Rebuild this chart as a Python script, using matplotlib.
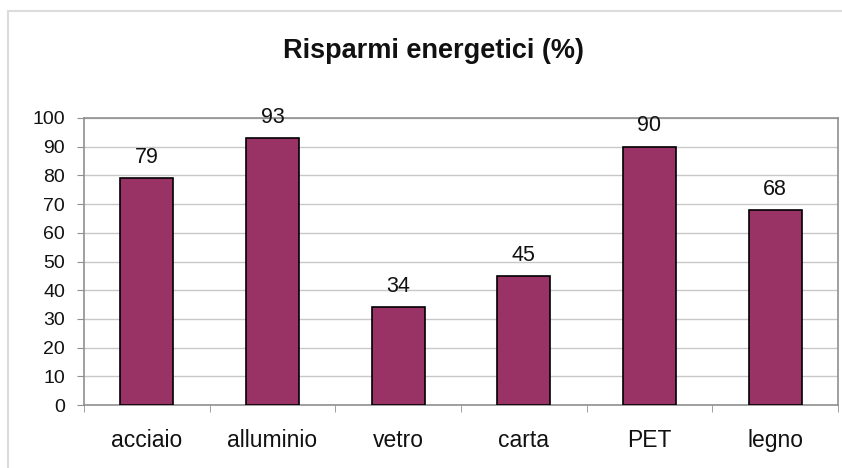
import matplotlib.pyplot as plt
from matplotlib.lines import Line2D

materiali = ["acciaio", "alluminio", "vetro", "carta", "PET", "legno"]
risparmio = [79, 93, 34, 45, 90, 68]
y_ticks = list(range(0, 101, 10))

plt.rcParams['font.family'] = ['Liberation Sans', 'DejaVu Sans']

fig = plt.figure(figsize=(8.42, 4.68), dpi=100)
fig.patch.set_facecolor('white')

# light frame lines along the left and top of the chart area
W, H = 842, 468
fig.add_artist(Line2D([8 / W, 8 / W], [0, 1 - 11 / H], transform=fig.transFigure,
                      color='#dcdcdc', linewidth=1.5))
fig.add_artist(Line2D([8 / W, 1], [1 - 11 / H, 1 - 11 / H], transform=fig.transFigure,
                      color='#dcdcdc', linewidth=1.5))

ax = fig.add_axes([84 / W, 63 / H, 754 / W, 287 / H])
x = range(len(materiali))
ax.bar(x, risparmio, width=0.42, color='#993366', edgecolor='black',
       linewidth=1.2, zorder=3)

for xi, v in zip(x, risparmio):
    ax.annotate(str(v), (xi, v), xytext=(0, 11), textcoords='offset points',
                ha='center', va='baseline', fontsize=15.5, color='#111111')

ax.set_xlim(-0.5, len(materiali) - 0.5)
ax.set_ylim(0, 100)
ax.set_yticks(y_ticks)
ax.yaxis.grid(True, color='#c8c8c8', linewidth=1, zorder=0)

# category boundaries as minor ticks, names centred between them
ax.set_xticks([i - 0.5 for i in range(len(materiali) + 1)], minor=True)
ax.set_xticks(list(x))
ax.set_xticklabels(materiali)
ax.tick_params(axis='x', which='major', length=0, pad=17.5, labelsize=16.5,
               labelcolor='#111111')
ax.tick_params(axis='x', which='minor', length=5, color='#909090', direction='out')
ax.tick_params(axis='y', length=5, color='#909090', labelsize=14, pad=8.5,
               labelcolor='#111111')

for s in ax.spines.values():
    s.set_color('#909090')
    s.set_linewidth(1.2)

fig.text(433 / W, 1 - 58 / H, "Risparmi energetici (%)", ha='center', va='baseline',
         fontsize=19.5, fontweight='bold', color='#111111')

fig.savefig("out.png", dpi=100)
